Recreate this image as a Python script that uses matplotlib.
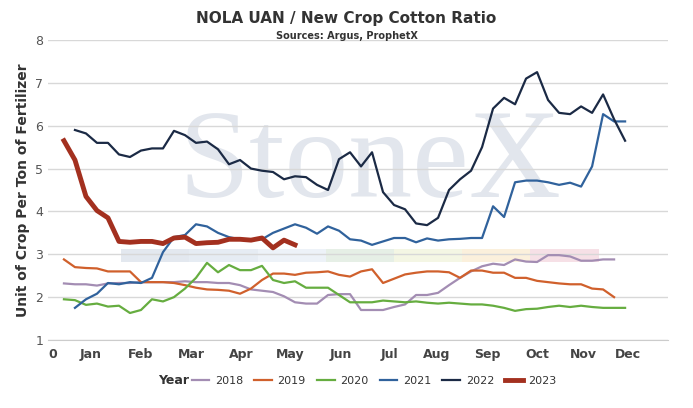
import matplotlib
matplotlib.use("Agg")
import matplotlib.pyplot as plt
import numpy as np

y2018 = [2.32,2.3,2.3,2.27,2.32,2.33,2.33,2.35,2.35,2.35,2.35,2.37,2.35,2.35,2.33,2.33,2.28,2.18,2.15,2.12,2.02,1.88,1.85,1.85,2.05,2.07,2.07,1.7,1.7,1.7,1.77,1.83,2.05,2.05,2.1,2.28,2.45,2.6,2.72,2.78,2.75,2.88,2.83,2.82,2.98,2.98,2.95,2.85,2.85,2.88,2.88]
y2019 = [2.88,2.7,2.68,2.67,2.6,2.6,2.6,2.35,2.35,2.35,2.33,2.28,2.22,2.18,2.17,2.15,2.08,2.2,2.4,2.55,2.55,2.52,2.57,2.58,2.6,2.52,2.48,2.6,2.65,2.33,2.43,2.53,2.57,2.6,2.6,2.58,2.45,2.62,2.62,2.57,2.57,2.45,2.45,2.38,2.35,2.32,2.3,2.3,2.2,2.18,2.0]
y2020 = [1.95,1.93,1.82,1.85,1.78,1.8,1.63,1.7,1.95,1.9,2.0,2.2,2.45,2.8,2.58,2.75,2.63,2.63,2.73,2.4,2.33,2.37,2.22,2.22,2.22,2.05,1.88,1.88,1.88,1.92,1.9,1.88,1.9,1.87,1.85,1.87,1.85,1.83,1.83,1.8,1.75,1.68,1.72,1.73,1.77,1.8,1.77,1.8,1.77,1.75,1.75,1.75]
y2021 = [1.75,1.95,2.08,2.33,2.3,2.35,2.33,2.45,3.05,3.4,3.45,3.7,3.65,3.5,3.4,3.35,3.35,3.35,3.5,3.6,3.7,3.62,3.48,3.65,3.55,3.35,3.32,3.22,3.3,3.38,3.38,3.28,3.37,3.32,3.35,3.36,3.38,3.38,4.12,3.87,4.68,4.72,4.72,4.68,4.62,4.67,4.58,5.05,6.27,6.1,6.1]
y2022 = [5.9,5.82,5.6,5.6,5.33,5.27,5.42,5.47,5.47,5.88,5.78,5.6,5.63,5.45,5.1,5.2,5.0,4.95,4.92,4.75,4.82,4.8,4.62,4.5,5.22,5.38,5.05,5.38,4.45,4.15,4.05,3.72,3.68,3.85,4.5,4.75,4.95,5.5,6.4,6.65,6.5,7.1,7.25,6.6,6.3,6.27,6.45,6.3,6.73,6.15,5.65]
y2023 = [5.65,5.2,4.35,4.02,3.85,3.3,3.28,3.3,3.3,3.25,3.38,3.4,3.25,3.27,3.28,3.35,3.35,3.33,3.38,3.15,3.33,3.22]
series = [("2018", y2018, 1, "#a38db3", 1.6), ("2019", y2019, 1, "#d0602c", 1.6),
          ("2020", y2020, 1, "#66ad40", 1.6), ("2021", y2021, 2, "#30629c", 1.6),
          ("2022", y2022, 2, "#1b2a45", 1.6), ("2023", y2023, 1, "#a3301f", 3.5)]
months = ["Jan","Feb","Mar","Apr","May","Jun","Jul","Aug","Sep","Oct","Nov","Dec"]
month_pos = [3.4,8.0,12.6,17.1,21.6,26.2,30.6,34.9,39.5,44.0,48.2,52.3]

fig = plt.figure(figsize=(6.93,4.08), dpi=100)
ax = fig.add_axes([48/693, 68/408, 620/693, 300/408])
ax.set_xlim(-0.45, 55.9)
ax.set_ylim(1, 8)
for s in ax.spines.values():
    s.set_visible(False)
ax.spines['bottom'].set_visible(True); ax.spines['bottom'].set_color('#cccccc')
ax.set_yticks(range(1,9))
ax.grid(axis='y', color='#d8d8d8', lw=1)
ax.tick_params(axis='y', length=0, labelsize=9, colors='#555555')
ax.set_xticks([0]+month_pos)
ax.set_xticklabels(["0"]+months, fontsize=9, fontweight='bold', color='#444444')
ax.tick_params(axis='x', length=0, pad=6)
ax.text(0.52, 0.58, "StoneX", transform=ax.transAxes, fontsize=92, family='Liberation Serif',
        color='#e2e6ed', ha='center', va='center', zorder=0)
bands = ['#e3e8ef','#e6ecf3','#edf2f8','#e6efe6','#f4f6e4','#fbf0dc','#f6e0e6']
for i, c in enumerate(bands):
    ax.axvspan(6.2+i*6.2, 12.4+i*6.2, ymin=(2.83-1)/7, ymax=(3.13-1)/7, color=c, zorder=0, lw=0)
for name, ys, start, col, lw in series:
    x = np.arange(start, start+len(ys))
    ax.plot(x, ys, color=col, lw=lw, label=name, zorder=3)
ax.set_ylabel("Unit of Crop Per Ton of Fertilizer", fontsize=10, fontweight='bold', color='#333333')
fig.text(0.5, 1-18/408, "NOLA UAN / New Crop Cotton Ratio", ha='center', va='center', fontsize=11, fontweight='bold', color='#333333')
fig.text(0.5, 1-36/408, "Sources: Argus, ProphetX", ha='center', va='center', fontsize=7, fontweight='bold', color='#333333')
fig.legend(loc='center left', bbox_to_anchor=(186/693, 1-381/408), ncol=6, frameon=False, fontsize=8,
           handlelength=1.6, handletextpad=0.5, columnspacing=1.0, labelcolor='#333333', borderpad=0)
fig.text(158/693, 1-381/408, "Year", ha='left', va='center', fontsize=9, fontweight='bold', color='#333333')
fig.savefig("out.png", dpi=100)
